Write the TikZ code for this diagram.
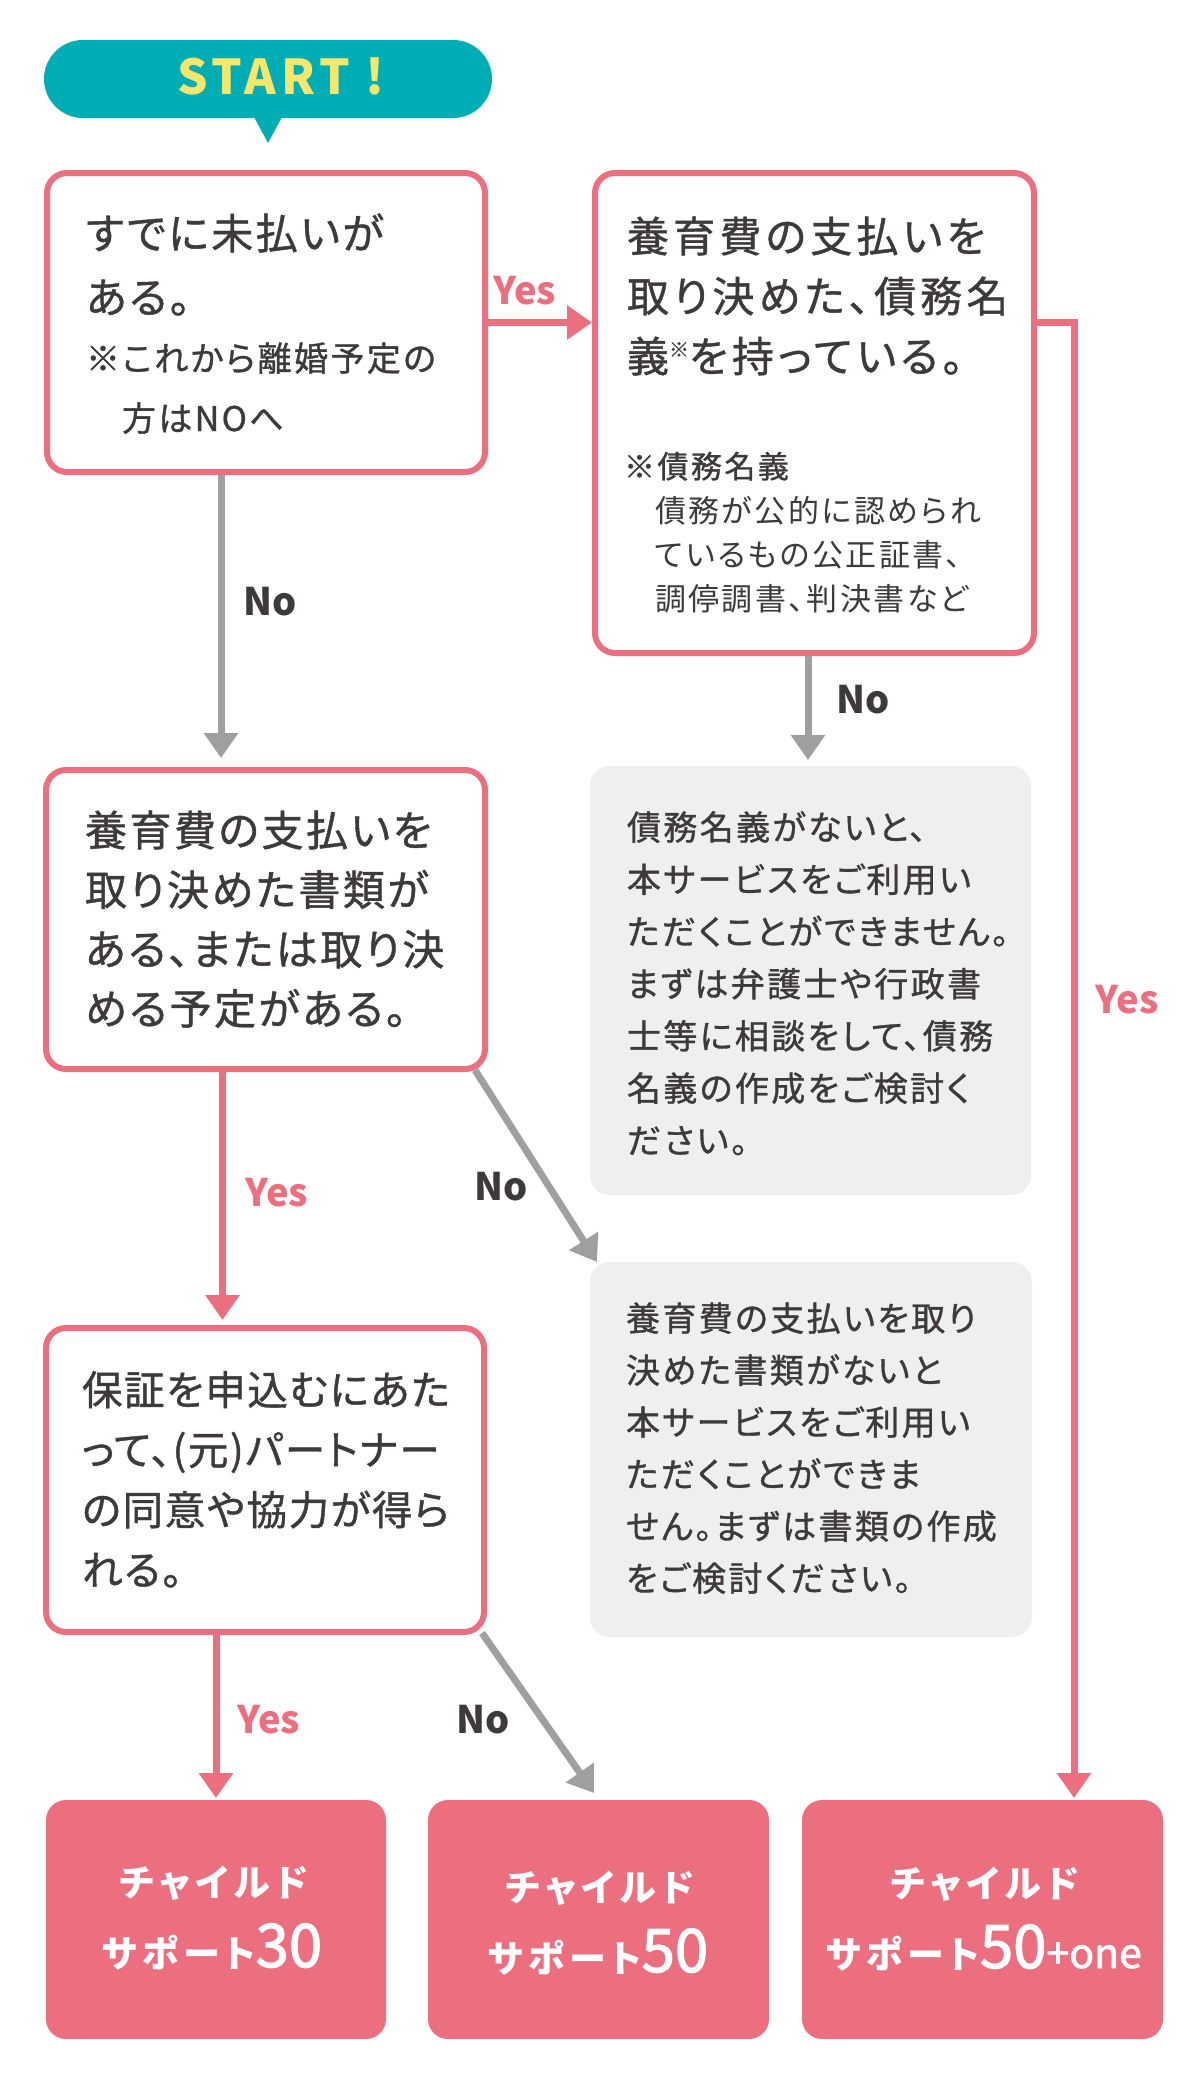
\documentclass[tikz,border=0pt]{standalone}
\usepackage{fontspec}
\setmainfont{Noto Sans CJK JP}[RawFeature=+palt]
\usetikzlibrary{arrows.meta}
\definecolor{pk}{HTML}{EC6F80}
\definecolor{tl}{HTML}{00ADB5}
\definecolor{yl}{HTML}{F4E76C}
\definecolor{gr}{HTML}{A09FA0}
\definecolor{gbox}{HTML}{EFEFEF}
\definecolor{ink}{HTML}{3E3A39}
\newcommand\jpf[3]{\addfontfeatures{LetterSpace=#1,FakeBold=1}\fontsize{#2}{#3}\selectfont}
\newcommand\jnum[2]{{\mdseries\addfontfeatures{LetterSpace=0,FakeBold=2}\fontsize{#1}{#1}\selectfont #2}}
\tikzset{
  qbox/.style={draw=pk, line width=6pt, fill=white, rounded corners=20pt, inner sep=0pt, outer sep=0pt, anchor=north west},
  gbx/.style={fill=gbox, rounded corners=20pt, inner sep=0pt, outer sep=0pt, anchor=north west},
  rbox/.style={fill=pk, rounded corners=20pt, inner sep=0pt, outer sep=0pt, anchor=north west},
  pkarrow/.style={draw=pk, line width=7pt, -{Triangle[length=25pt,width=33pt]}},
  grarrow/.style={draw=gr, line width=7pt, -{Triangle[length=25pt,width=33pt]}},
  txt/.style={inner sep=0pt, outer sep=0pt, anchor=base west, text=ink, align=left, text width=460pt},
  rtxt/.style={inner sep=0pt, outer sep=0pt, anchor=base, text=white, font=\bfseries\addfontfeatures{LetterSpace=14}\fontsize{37}{37}\selectfont},
  yeslbl/.style={inner sep=0pt, text=pk, font=\bfseries\fontsize{38}{38}\selectfont},
  nolbl/.style={inner sep=0pt, text=ink, font=\bfseries\fontsize{38}{38}\selectfont},
}
\begin{document}
\begin{tikzpicture}[x=1pt,y=-1pt]
\useasboundingbox (0,0) rectangle (1200,2080);
% START bubble
\node[fill=tl, rounded corners=39pt, minimum width=448pt, minimum height=78pt, inner sep=0pt, outer sep=0pt, anchor=north west] (start) at (44,40) {};
\fill[tl] ([xshift=-14pt,yshift=1pt]start.south) -- ([yshift=-25pt]start.south) -- ([xshift=14pt,yshift=1pt]start.south) -- cycle;
\node[inner sep=0pt, text=yl, font=\bfseries\addfontfeatures{LetterSpace=10}\fontsize{48}{48}\selectfont] (starttxt) at (281,76) {START !};

% question boxes
\node[qbox, minimum width=438pt, minimum height=299pt] (q1) at (47,173) {};
\node[qbox, minimum width=439pt, minimum height=480pt] (q2) at (595,173) {};
\node[qbox, minimum width=439pt, minimum height=299pt] (q3) at (46,770) {};
\node[qbox, minimum width=438pt, minimum height=304pt] (q4) at (46,1328) {};
% info boxes
\node[gbx, minimum width=441pt, minimum height=429pt] (gA) at (590,766) {};
\node[gbx, minimum width=442pt, minimum height=375pt] (gB) at (590,1262) {};
% result boxes
\node[rbox, minimum width=340pt, minimum height=239pt] (r1) at (46,1800) {};
\node[rbox, minimum width=341pt, minimum height=239pt] (r2) at (428,1800) {};
\node[rbox, minimum width=361pt, minimum height=239pt] (r3) at (802,1800) {};

% texts
\node[txt, font=\jpf{6}{42}{64}] (q1a) at (86,249) {すでに未払いが\\ある。};
\node[txt, font=\jpf{7}{34}{60}] (q1b) at (86,371) {※これから離婚予定の\\\hspace*{36pt}方はNOへ};
\node[txt, font=\jpf{10}{42}{60}] (q2a) at (627,252) {養育費の支払いを\\取り決めた、債務名\\義{\fontsize{20}{20}\selectfont\raisebox{15pt}{※}}を持っている。};
\node[txt, font=\jpf{8}{31}{31}] (q2b) at (624,478) {※債務名義};
\node[txt, font=\addfontfeatures{LetterSpace=8}\fontsize{31}{44}\selectfont] (q2c) at (655,522) {債務が公的に認められ\\ているもの公正証書、\\調停調書、判決書など};
\node[txt, font=\jpf{6}{42}{59.5}] (q3a) at (85,846) {養育費の支払いを\\取り決めた書類が\\ある、または取り決\\める予定がある。};
\node[txt, font=\jpf{4}{40.5}{60}] (q4a) at (82,1405) {保証を申込むにあた\\って、(元)パートナー\\の同意や協力が得ら\\れる。};
\node[txt, font=\jpf{7}{34}{52.2}] (gAa) at (627,840) {債務名義がないと、\\本サービスをご利用い\\ただくことができません。\\まずは弁護士や行政書\\士等に相談をして、債務\\名義の作成をご検討く\\ださい。};
\node[txt, font=\jpf{7}{34}{52}] (gBa) at (626,1331) {養育費の支払いを取り\\決めた書類がないと\\本サービスをご利用い\\ただくことができま\\せん。まずは書類の作成\\をご検討ください。};

\node[rtxt] (r1a) at (214,1896) {チャイルド};
\node[rtxt] (r1b) at (212,1967) {サポート\jnum{60}{30}};
\node[rtxt] (r2a) at (600,1901) {チャイルド};
\node[rtxt] (r2b) at (598,1972) {サポート\jnum{60}{50}};
\node[rtxt] (r3a) at (985,1897) {チャイルド};
\node[rtxt] (r3b) at (984,1968) {サポート\jnum{60}{50}\jnum{41}{+one}};

% connectors
\draw[pkarrow, shorten <=3pt, shorten >=3pt] (q1.east) -- (q1.east -| q2.west);
\draw[grarrow, shorten <=3pt, shorten >=12pt] ([xshift=-45pt]q1.south) -- ([xshift=-45pt]q1.south |- q3.north);
\draw[grarrow, shorten <=3pt, shorten >=6pt] ([xshift=-6.5pt]q2.south) -- ([xshift=-6.5pt]q2.south |- gA.north);
\draw[pkarrow, line join=miter, shorten <=3pt, shorten >=2pt] (q2.east |- q1.east) -- ++(40,0) coordinate (turn) -- (turn |- r3.north);
\draw[pkarrow, shorten <=3pt, shorten >=8pt] ([xshift=-43pt]q3.south) -- ([xshift=-43pt]q3.south |- q4.north);
\draw[grarrow] ([xshift=-10pt,yshift=-1pt]q3.south east) -- ([xshift=7pt]gB.north west);
\draw[pkarrow, shorten <=3pt, shorten >=2pt] ([xshift=-49pt]q4.south) -- ([xshift=-49pt]q4.south |- r1.north);
\draw[grarrow] ([xshift=-2pt,yshift=-1pt]q4.south east) -- ([xshift=166pt,yshift=7pt]r2.north west);

% connector labels
\node[yeslbl] (l1) at (525,291) {Yes};
\node[nolbl] (l2) at (270,602) {No};
\node[nolbl] (l3) at (863,700) {No};
\node[yeslbl] (l4) at (1127,1000) {Yes};
\node[yeslbl] (l5) at (277,1193) {Yes};
\node[nolbl] (l6) at (501,1187) {No};
\node[yeslbl] (l7) at (269,1720) {Yes};
\node[nolbl] (l8) at (483,1720) {No};
\end{tikzpicture}
\end{document}
